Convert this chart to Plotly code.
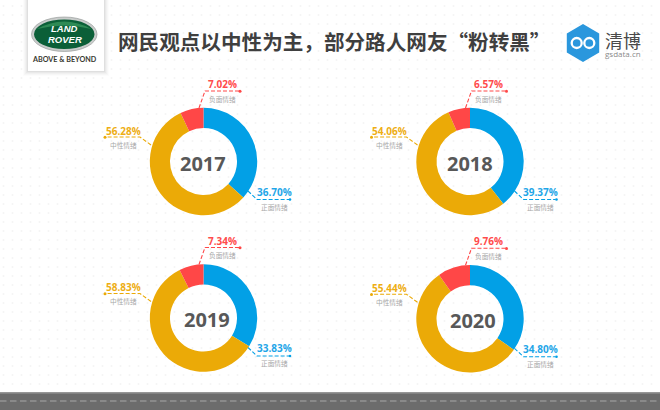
import numpy as np
import plotly.graph_objects as go

title = "网民观点以中性为主，部分路人网友“粉转黑”"
years = ["2017", "2018", "2019", "2020"]
categories = ["正面情绪", "中性情绪", "负面情绪"]
positive = [36.70, 39.37, 33.83, 34.80]
neutral = [56.28, 54.06, 58.83, 55.44]
negative = [7.02, 6.57, 7.34, 9.76]
colors = ["#02A0E6", "#EBAA07", "#FF4747"]
label_colors = ["#1FA6E8", "#EEAE14", "#FF4B4B"]

W, H = 660, 410
centers = [(203.5, 161.5), (470, 161.5), (203.5, 318), (470, 318.8)]
year_x = [203, 470, 206.7, 473.3]
R = 53.7

fig = go.Figure()

# Faint dotted background
gx, gy = np.meshgrid(np.arange(3.5, W, 9), np.arange(6, 392, 9))
fig.add_trace(go.Scatter(x=gx.ravel(), y=gy.ravel(), mode="markers", hoverinfo="skip",
                         marker=dict(size=2, color="#F5F5F5"), showlegend=False))

shapes, ann = [], []


def text(x, y, s, size, color, font="Noto Sans CJK SC", bold=False, italic=False):
    t = f"<b>{s}</b>" if bold else s
    if italic:
        t = f"<i>{t}</i>"
    ann.append(dict(x=x, y=y, xref="x", yref="y", text=t, showarrow=False, xanchor="center",
                    yanchor="middle", font=dict(size=size, color=color, family=font)))


def poly(points, color, dash="4px,2px", width=1.1):
    path = "M" + " L".join(f"{a},{b}" for a, b in points)
    shapes.append(dict(type="path", path=path, xref="x", yref="y",
                       line=dict(color=color, width=width, dash=dash)))


def dot(x, y, color, r=1.5):
    shapes.append(dict(type="circle", xref="x", yref="y", x0=x - r, x1=x + r, y0=y - r, y1=y + r,
                       fillcolor=color, line=dict(width=0)))


for i, yr in enumerate(years):
    cx, cy = centers[i]
    vals = [positive[i], neutral[i], negative[i]]
    fig.add_trace(go.Pie(
        values=vals, labels=categories, hole=0.624, sort=False, direction="clockwise", rotation=0,
        textinfo="none", hoverinfo="label+percent", showlegend=False,
        marker=dict(colors=colors, line=dict(width=0)),
        domain=dict(x=[(cx - R) / W, (cx + R) / W], y=[1 - (cy + R) / H, 1 - (cy - R) / H]),
    ))
    text(year_x[i], cy + 1.5, yr, 20, "#585858", font="Open Sans", bold=True)

    dx, dy = cx - 203.5, cy - 161.5
    # negative label (top)
    poly([(199 + dx, 108 + dy), (205 + dx, 91 + dy), (240 + dx, 91 + dy)], colors[2])
    dot(240 + dx, 91.3 + dy, colors[2])
    text(222 + dx, 84 + dy, f"{negative[i]:.2f}%", 10, label_colors[2], font="Open Sans", bold=True)
    text(222 + dx, 98.5 + dy, categories[2], 6.7, "#A8A8A8")
    # neutral label (left)
    poly([(151 + dx, 145 + dy), (140 + dx, 137 + dy), (105 + dx, 137 + dy)], colors[1])
    dot(105 + dx, 137.3 + dy, colors[1])
    text(123 + dx, 130.5 + dy, f"{neutral[i]:.2f}%", 10, label_colors[1], font="Open Sans", bold=True)
    text(123 + dx, 144.5 + dy, categories[1], 6.7, "#A8A8A8")
    # positive label (right)
    poly([(248 + dx, 191 + dy), (257 + dx, 199.5 + dy), (289 + dx, 199.5 + dy)], colors[0])
    dot(290 + dx, 199.5 + dy, colors[0], r=1.3)
    text(274 + dx, 191.5 + dy, f"{positive[i]:.2f}%", 10, label_colors[0], font="Open Sans", bold=True)
    text(274 + dx, 206.5 + dy, categories[0], 6.7, "#A8A8A8")

# Title
text(334, 40.5, title, 20.6, "#3F3F3F", bold=True)

# Land Rover logo card with soft shadow
for grow, op in [(5, 0.012), (4, 0.018), (3, 0.025), (2, 0.03), (1, 0.04)]:
    shapes.append(dict(type="rect", xref="x", yref="y", x0=28 - grow, x1=104 + grow, y0=0, y1=71 + grow,
                       fillcolor=f"rgba(0,0,0,{op})", line=dict(width=0)))
shapes.append(dict(type="rect", xref="x", yref="y", x0=28, x1=104, y0=0, y1=71,
                   fillcolor="#FFFFFF", line=dict(width=0)))
shapes.append(dict(type="circle", xref="x", yref="y", x0=31.5, x1=97, y0=17, y1=51.5,
                   fillcolor="#C9CCCB", line=dict(color="#8F9492", width=0.6)))
shapes.append(dict(type="circle", xref="x", yref="y", x0=34, x1=94.5, y0=19.5, y1=49,
                   fillcolor="#0B5F38", line=dict(width=0)))
shapes.append(dict(type="path", xref="x", yref="y", path="M37,29 Q64,14 91.5,29 Q64,22 37,29 Z",
                   fillcolor="#2E8A55", line=dict(width=0)))
text(64.5, 28.3, "LAND", 9.5, "#FFFFFF", font="Liberation Sans", bold=True, italic=True)
text(64.5, 39.3, "ROVER", 9.5, "#FFFFFF", font="Liberation Sans", bold=True, italic=True)
text(64.5, 59.5, "ABOVE &amp; BEYOND", 7.2, "#3A3A32", font="Lato", bold=True)

# gsdata logo
hx, hy, hw, hh = 583, 43, 16.2, 19
shapes.append(dict(type="path", xref="x", yref="y", fillcolor="#2A97DD", line=dict(width=0),
                   path=f"M{hx},{hy-hh} L{hx+hw},{hy-hh/2} L{hx+hw},{hy+hh/2} L{hx},{hy+hh} "
                        f"L{hx-hw},{hy+hh/2} L{hx-hw},{hy-hh/2} Z"))
for ox in (-6.3, 6.3):
    shapes.append(dict(type="circle", xref="x", yref="y", x0=hx + ox - 5, x1=hx + ox + 5,
                       y0=hy - 5, y1=hy + 5, line=dict(color="#FFFFFF", width=2.3)))
text(623, 40, "清博", 18, "#4A4A4A")
text(623, 53.5, "gsdata.cn", 8, "#8A8A8A", font="Open Sans")

# Road band at the bottom
shapes.append(dict(type="rect", xref="x", yref="y", x0=0, x1=W, y0=392.3, y1=H,
                   fillcolor="#6C6C6C", line=dict(width=0)))
shapes.append(dict(type="rect", xref="x", yref="y", x0=0, x1=W, y0=392.3, y1=393.5,
                   fillcolor="#9A9A9A", line=dict(width=0)))
shapes.append(dict(type="line", xref="x", yref="y", x0=0, x1=W, y0=401, y1=401,
                   line=dict(color="#A6A6A6", width=1, dash="6.5px,3.5px")))

fig.update_layout(
    width=W, height=H, margin=dict(l=0, r=0, t=0, b=0),
    paper_bgcolor="#FFFFFF", plot_bgcolor="rgba(0,0,0,0)",
    xaxis=dict(range=[0, W], visible=False, fixedrange=True),
    yaxis=dict(range=[H, 0], visible=False, fixedrange=True),
    shapes=shapes, annotations=ann,
)
fig.write_html("out.html", config=dict(displayModeBar=False),
               post_script="document.body.style.margin='0';")
